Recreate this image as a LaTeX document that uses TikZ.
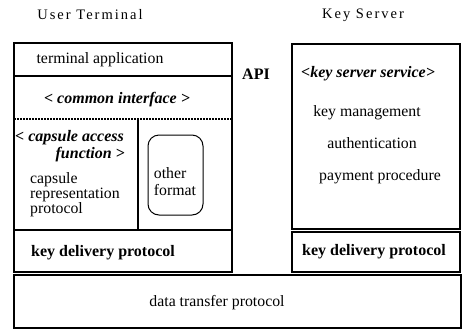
\documentclass[tikz,border=0pt]{standalone}
\usepackage{fontspec}
\setmainfont{Liberation Serif}
\begin{document}
\begin{tikzpicture}[x=1pt,y=-1pt,
  box/.style={draw, line width=2.2pt},
  dotline/.style={line width=2.6pt, dash pattern=on 1.6pt off 1.4pt},
  txt/.style={font=\fontsize{15.8}{15}\selectfont, inner sep=0pt},
  btxt/.style={font=\fontsize{16}{15}\selectfont\bfseries, inner sep=0pt},
  bitxt/.style={font=\fontsize{16}{15}\selectfont\bfseries\itshape, inner sep=0pt},
  head/.style={font=\fontsize{14.5}{14}\selectfont\addfontfeature{LetterSpace=14}, inner sep=0pt}]
\useasboundingbox (0,0) rectangle (462,330);
% user terminal column
\draw[box] (14,43) rectangle (232,230);
\draw[box] (14,76) -- (232,76);
\draw[dotline] (14,119) -- (232,119);
\draw[box] (138,119) -- (138,230);
\draw[line width=1pt, rounded corners=11pt] (148,135) rectangle (203,215);
\draw[box] (14,230) rectangle (232,272);
% key server column
\draw[box] (292,44) rectangle (460,229);
\draw[box] (292,232) rectangle (460,272);
% data transfer
\draw[box] (14,275) rectangle (461,328);
% texts
\node[head] (ut) at (90,15) {User Terminal};
\node[head] (ks) at (363,15) {Key Server};
\node[txt] (ta) at (100,60) {terminal application};
\node[bitxt] (ci) at (117,100) {< common interface >};
\node[btxt] (api) at (256,74) {API};
\node[bitxt] (kss) at (368,74) {<key server service>};
\node[txt] (km) at (367,113) {key management};
\node[txt] (au) at (372,143) {authentication};
\node[txt] (pp) at (380,177) {payment procedure};
\node[bitxt, anchor=west] (ca) at (15,138) {< capsule access};
\node[bitxt, anchor=east] (fn) at (125,155) {function >};
\node[txt, anchor=north west, align=left, font=\fontsize{15.8}{15}\selectfont] (crp) at (30,172) {capsule\\representation\\protocol};
\node[txt, align=left, font=\fontsize{15.8}{17}\selectfont] (of) at (175,182) {other\\format};
\node[btxt] (kdl) at (103,253) {key delivery protocol};
\node[btxt] (kdr) at (374,252) {key delivery protocol};
\node[txt] (dt) at (217,303) {data transfer protocol};
\end{tikzpicture}
\end{document}
